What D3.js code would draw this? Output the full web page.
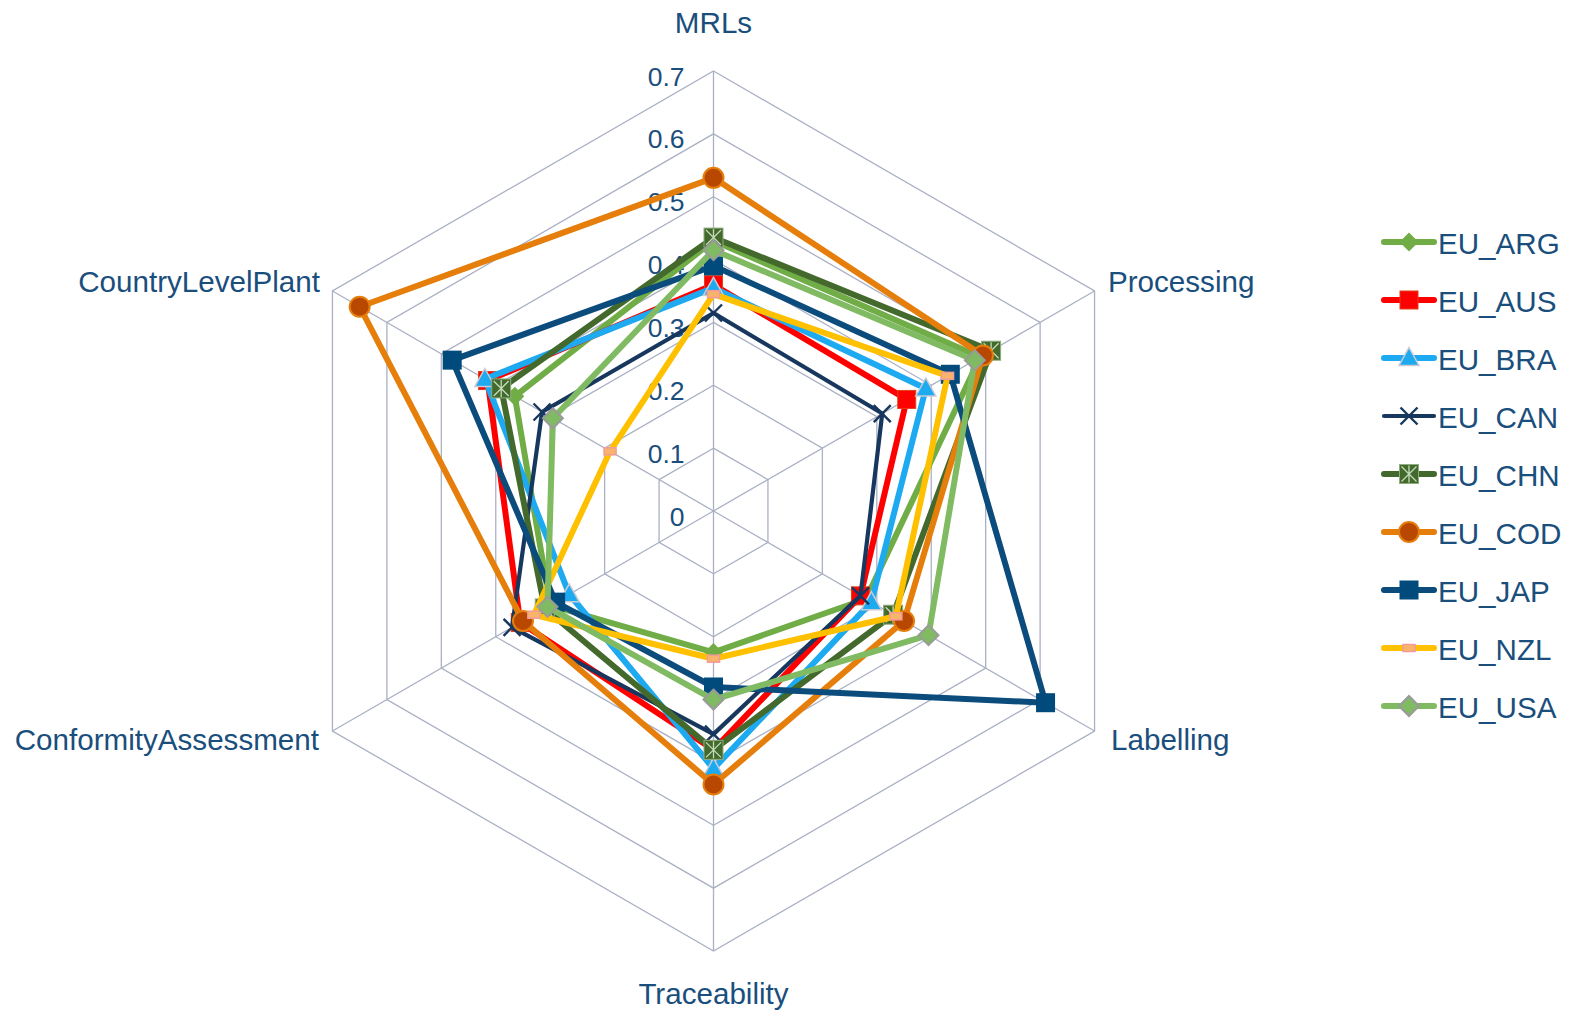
<!DOCTYPE html>
<html>
<head>
<meta charset="utf-8">
<script src="https://cdn.jsdelivr.net/npm/d3@7"></script>
<style>
  html, body { margin: 0; padding: 0; background: #ffffff; }
  svg { display: block; }
  text { font-family: "Liberation Sans", Arial, sans-serif; fill: #1a4e7c; }
</style>
</head>
<body>
<svg id="chart" width="1574" height="1011"></svg>
<script>
// Radar axes (clockwise from the top)
const axes = ["MRLs", "Processing", "Labelling", "Traceability", "ConformityAssessment", "CountryLevelPlant"];

// Radial tick labels
const ticks = [0, 0.1, 0.2, 0.3, 0.4, 0.5, 0.6, 0.7];

// Series names, in legend / drawing order
const seriesNames = ["EU_ARG", "EU_AUS", "EU_BRA", "EU_CAN", "EU_CHN", "EU_COD", "EU_JAP", "EU_NZL", "EU_USA"];

// Values per series, in axis order
const EU_ARG = [0.43, 0.49, 0.28, 0.225, 0.30, 0.365];
const EU_AUS = [0.36, 0.355, 0.27, 0.38, 0.355, 0.415];
const EU_BRA = [0.355, 0.39, 0.29, 0.41, 0.265, 0.42];
const EU_CAN = [0.315, 0.31, 0.27, 0.355, 0.37, 0.315];
const EU_CHN = [0.435, 0.51, 0.33, 0.38, 0.31, 0.39];
const EU_COD = [0.53, 0.495, 0.35, 0.435, 0.35, 0.65];
const EU_JAP = [0.39, 0.435, 0.61, 0.28, 0.29, 0.48];
const EU_NZL = [0.345, 0.43, 0.335, 0.235, 0.33, 0.19];
const EU_USA = [0.415, 0.48, 0.395, 0.30, 0.305, 0.295];

const seriesValues = [EU_ARG, EU_AUS, EU_BRA, EU_CAN, EU_CHN, EU_COD, EU_JAP, EU_NZL, EU_USA];

// Styling per series: line colour, width and marker
const styles = {
  EU_ARG: { color: "#70ad47", width: 6, marker: "diamondPlain" },
  EU_AUS: { color: "#ff0000", width: 6, marker: "square" },
  EU_BRA: { color: "#1eaaf1", width: 6, marker: "triangle" },
  EU_CAN: { color: "#17375e", width: 4.2, marker: "cross" },
  EU_CHN: { color: "#43692c", width: 6, marker: "star" },
  EU_COD: { color: "#e57e0a", width: 6, marker: "circle" },
  EU_JAP: { color: "#0b4c7c", width: 6, marker: "squareDark" },
  EU_NZL: { color: "#ffc000", width: 6, marker: "dash" },
  EU_USA: { color: "#80ba62", width: 6, marker: "diamondGrey" }
};

const svg = d3.select("#chart");
const cx = 713.5, cy = 511, R = 440;
const rScale = d3.scaleLinear().domain([0, 0.7]).range([0, R]);
const angle = d3.scaleLinear().domain([0, axes.length]).range([0, 2 * Math.PI]);

function pt(i, v) {
  const a = angle(i);
  const r = rScale(v);
  return [cx + r * Math.sin(a), cy - r * Math.cos(a)];
}

// Grid rings
const grid = svg.append("g").attr("class", "grid");
ticks.filter(t => t > 0).forEach(t => {
  const pts = axes.map((_, i) => pt(i, t));
  grid.append("path")
    .attr("d", d3.line()(pts) + "Z")
    .attr("fill", "none")
    .attr("stroke", "#aab1c4")
    .attr("stroke-width", 1.3);
});
// Spokes
axes.forEach((_, i) => {
  const [x, y] = pt(i, 0.7);
  grid.append("line")
    .attr("x1", cx).attr("y1", cy).attr("x2", x).attr("y2", y)
    .attr("stroke", "#aab1c4").attr("stroke-width", 1.3);
});

// Tick labels along the top spoke
svg.append("g").selectAll("text").data(ticks).join("text")
  .attr("x", cx - 29)
  .attr("y", d => cy - rScale(d) + 5.5)
  .attr("text-anchor", "end")
  .attr("dominant-baseline", "central")
  .attr("font-size", 26.5)
  .text(d => d === 0 ? "0" : d3.format(".1f")(d));

// Axis titles
const axisLabelPos = [
  { x: cx, y: 22, anchor: "middle" },
  { x: 1108, y: 281, anchor: "start" },
  { x: 1111, y: 739, anchor: "start" },
  { x: cx, y: 993, anchor: "middle" },
  { x: 319, y: 739, anchor: "end" },
  { x: 320, y: 281, anchor: "end" }
];
svg.append("g").selectAll("text").data(axes).join("text")
  .attr("x", (d, i) => axisLabelPos[i].x)
  .attr("y", (d, i) => axisLabelPos[i].y)
  .attr("text-anchor", (d, i) => axisLabelPos[i].anchor)
  .attr("dominant-baseline", "central")
  .attr("font-size", 29.6)
  .text(d => d);

// Marker drawing
function drawMarker(g, type, x, y, color) {
  const m = g.append("g").attr("transform", `translate(${x},${y})`);
  switch (type) {
    case "diamondPlain":
      m.append("path").attr("d", "M0,-9.5L9.5,0L0,9.5L-9.5,0Z").attr("fill", color);
      break;
    case "diamondGrey":
      m.append("path").attr("d", "M0,-10L10,0L0,10L-10,0Z")
        .attr("fill", color).attr("stroke", "#9a9a9a").attr("stroke-width", 2);
      break;
    case "square":
      m.append("rect").attr("x", -9).attr("y", -9).attr("width", 18).attr("height", 18)
        .attr("fill", "#ff0000").attr("stroke", "#e0401a").attr("stroke-width", 1);
      break;
    case "squareDark":
      m.append("rect").attr("x", -9.5).attr("y", -9.5).attr("width", 19).attr("height", 19)
        .attr("fill", "#004a7c");
      break;
    case "triangle":
      m.append("path").attr("d", "M0,-10.5L10,7.5L-10,7.5Z")
        .attr("fill", color).attr("stroke", "#c8ccd4").attr("stroke-width", 1.5);
      break;
    case "cross":
      m.append("path").attr("d", "M-8.5,-8.5L8.5,8.5M-8.5,8.5L8.5,-8.5")
        .attr("stroke", "#17375e").attr("stroke-width", 2.4);
      break;
    case "star":
      m.append("rect").attr("x", -9.5).attr("y", -9.5).attr("width", 19).attr("height", 19)
        .attr("fill", "#43692c").attr("stroke", "#8fae7f").attr("stroke-width", 1);
      m.append("path").attr("d", "M-7.5,-7.5L7.5,7.5M-7.5,7.5L7.5,-7.5M0,-8.5L0,8.5")
        .attr("stroke", "#c5dcba").attr("stroke-width", 1.3);
      break;
    case "circle":
      m.append("circle").attr("r", 10)
        .attr("fill", "#b84700").attr("stroke", "#e57e0a").attr("stroke-width", 2);
      break;
    case "dash":
      m.append("rect").attr("x", -6).attr("y", -3.5).attr("width", 12).attr("height", 7)
        .attr("fill", "#f7b46a").attr("stroke", "#f29b9b").attr("stroke-width", 1.5);
      break;
  }
}

// Series lines
const lineGen = d3.line();
const seriesG = svg.append("g");
seriesNames.forEach((name, s) => {
  const st = styles[name];
  const pts = seriesValues[s].map((v, i) => pt(i, v));
  seriesG.append("path")
    .attr("d", lineGen(pts) + "Z")
    .attr("fill", "none")
    .attr("stroke", st.color)
    .attr("stroke-width", st.width)
    .attr("stroke-linejoin", "round");
  pts.forEach(([x, y]) => drawMarker(seriesG, st.marker, x, y, st.color));
});

// Legend
const legend = svg.append("g");
const legendY = d3.scalePoint().domain(seriesNames).range([242, 706]);
seriesNames.forEach(name => {
  const st = styles[name];
  const y = legendY(name);
  legend.append("line")
    .attr("x1", 1384).attr("x2", 1434).attr("y1", y).attr("y2", y)
    .attr("stroke", st.color).attr("stroke-width", st.width)
    .attr("stroke-linecap", "round");
  drawMarker(legend, st.marker, 1409, y, st.color);
  legend.append("text")
    .attr("x", 1438).attr("y", y + 1)
    .attr("dominant-baseline", "central")
    .attr("font-size", 29.6)
    .text(name);
});
</script>
</body>
</html>
